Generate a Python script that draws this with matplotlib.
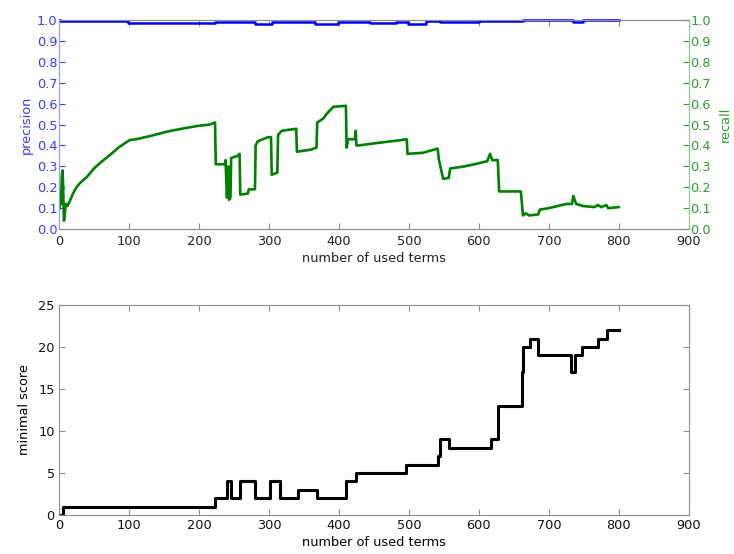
"""
Precision / recall and minimal score against number of used terms
"""

import matplotlib
matplotlib.use('Agg')
import matplotlib.pyplot as plt

plt.rcParams['font.family'] = ['DejaVu Sans']
plt.rcParams['font.size'] = 9.3

# precision (stays close to 1.0)
prec_x = [1, 2, 99, 223, 280, 304, 366, 399, 444, 482, 499, 525, 544, 600,
          663, 735, 749, 800]
prec_y = [1.0, 0.995, 0.988, 0.993, 0.984, 0.992, 0.984, 0.992, 0.986, 0.993,
          0.982, 0.994, 0.990, 0.995, 1.0, 0.99, 1.0, 1.0]

# recall
rec_x = [1, 2, 3, 4, 5, 6, 7, 8, 9, 10, 12, 15, 20, 25, 30, 40, 50, 60, 73,
         85, 101, 110, 130, 154, 175, 197, 215, 223, 224, 237, 238, 240, 242,
         243, 245, 246, 255, 258, 259, 270, 271, 280, 281, 284, 299, 303, 304,
         312, 313, 318, 339, 340, 360, 368, 369, 378, 382, 392, 410, 411, 413,
         423, 424, 425, 428, 450, 487, 497, 498, 520, 541, 543, 549, 557, 559,
         580, 600, 612, 616, 619, 627, 629, 660, 663, 667, 672, 685, 687, 700,
         725, 733, 735, 739, 749, 765, 770, 775, 782, 785, 800]
rec_y = [0.10, 0.18, 0.12, 0.25, 0.28, 0.20, 0.04, 0.06, 0.10, 0.12, 0.11,
         0.13, 0.17, 0.20, 0.22, 0.25, 0.29, 0.32, 0.355, 0.39, 0.426, 0.43,
         0.445, 0.466, 0.48, 0.493, 0.50, 0.51, 0.31, 0.31, 0.33, 0.15, 0.30,
         0.14, 0.15, 0.34, 0.35, 0.36, 0.165, 0.17, 0.19, 0.19, 0.40, 0.42,
         0.44, 0.44, 0.26, 0.27, 0.45, 0.47, 0.48, 0.37, 0.38, 0.39, 0.51,
         0.53, 0.55, 0.585, 0.59, 0.39, 0.43, 0.43, 0.47, 0.40, 0.40, 0.41,
         0.425, 0.43, 0.36, 0.365, 0.385, 0.33, 0.24, 0.245, 0.29, 0.30, 0.315,
         0.325, 0.36, 0.33, 0.33, 0.18, 0.18, 0.065, 0.075, 0.065, 0.07, 0.093,
         0.10, 0.12, 0.12, 0.158, 0.12, 0.11, 0.105, 0.115, 0.105, 0.115, 0.10,
         0.105]

# minimal score (step function)
score_x = [0, 5, 223, 240, 246, 258, 280, 302, 316, 342, 369, 410, 425, 496,
           542, 545, 558, 618, 627, 661, 663, 673, 685, 732, 737, 747, 770,
           783, 800]
score_y = [0, 1, 2, 4, 2, 4, 2, 4, 2, 3, 2, 4, 5, 6, 7, 9, 8, 9, 13, 17, 20,
           21, 19, 17, 19, 20, 21, 22, 22]

x_ticks = range(0, 1000, 100)
blue = '#3a3aff'
green = '#2f9a2f'
grey = '#909090'

fig = plt.figure(figsize=(7.34, 5.54), dpi=100)

# top: precision / recall
ax1 = fig.add_axes([0.0804, 0.5866, 0.858, 0.377])
ax2 = ax1.twinx()
ax1.plot(prec_x, prec_y, color='#0000ff', lw=1.8, drawstyle='steps-post',
         clip_on=False, zorder=3)
ax2.plot(rec_x, rec_y, color='#008000', lw=1.9)

ax1.set_xlim(0, 900)
ax1.set_ylim(0, 1)
ax2.set_ylim(0, 1)
ax1.set_xticks(x_ticks)
yt = [i / 10 for i in range(11)]
ax1.set_yticks(yt)
ax2.set_yticks(yt)
ax1.set_yticklabels(['%.1f' % v for v in yt])
ax2.set_yticklabels(['%.1f' % v for v in yt])

ax1.tick_params(axis='x', direction='in', top=True, length=4, color=grey,
                labelcolor='#222222', pad=4)
ax1.tick_params(axis='y', direction='in', length=4, color=blue,
                labelcolor=blue, pad=1)
ax2.tick_params(axis='y', direction='in', length=4, color=green,
                labelcolor=green, pad=1)
for ax in (ax1, ax2):
    ax.spines['bottom'].set_color(grey)
    ax.spines['top'].set_color(grey)
    ax.spines['left'].set_color('#9a9aff')
    ax.spines['right'].set_color('#8fcb8f')

ax1.set_ylabel('precision', color=blue, labelpad=3)
ax2.set_ylabel('recall', color=green, labelpad=6)
ax1.set_xlabel('number of used terms', color='#222222', labelpad=3)

# bottom: minimal score
ax3 = fig.add_axes([0.0804, 0.0704, 0.858, 0.379])
ax3.plot(score_x, score_y, color='black', lw=2.2, drawstyle='steps-post')
ax3.set_xlim(0, 900)
ax3.set_ylim(0, 25)
ax3.set_xticks(x_ticks)
ax3.set_yticks(range(0, 30, 5))
ax3.tick_params(direction='in', top=True, right=True, length=4, color=grey,
                labelcolor='#111111', pad=3)
for s in ax3.spines.values():
    s.set_color(grey)
ax3.set_ylabel('minimal score', labelpad=5)
ax3.set_xlabel('number of used terms', labelpad=3)

plt.savefig('out.png', dpi=100)
